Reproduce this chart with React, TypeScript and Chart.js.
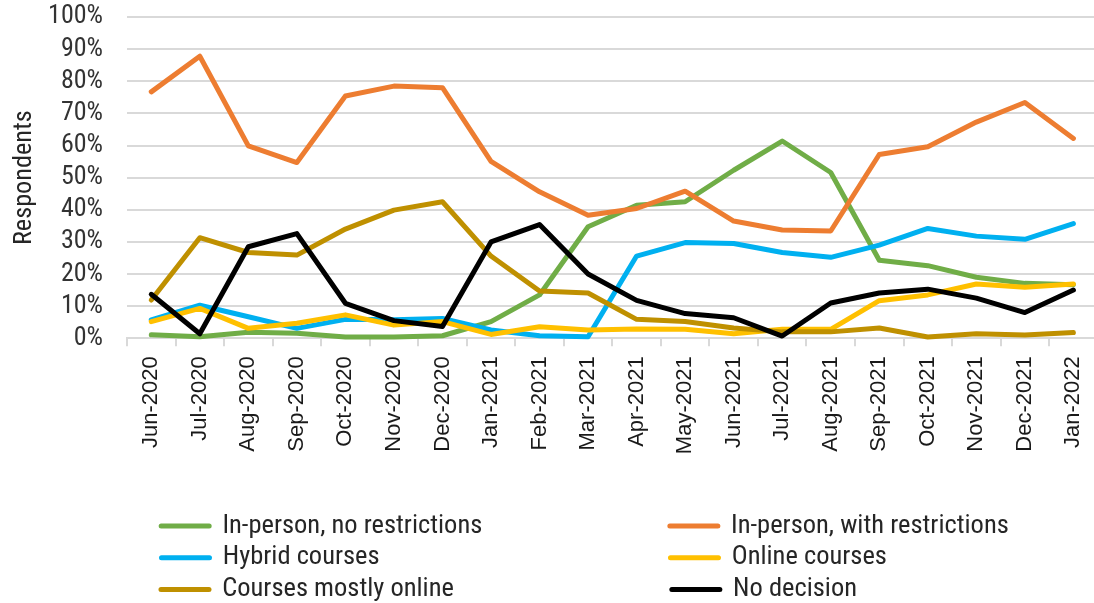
import React, { useEffect, useRef } from 'react';
import { Chart, registerables } from 'chart.js';

Chart.register(...registerables);

const categories = [
  'Jun-2020', 'Jul-2020', 'Aug-2020', 'Sep-2020', 'Oct-2020', 'Nov-2020', 'Dec-2020',
  'Jan-2021', 'Feb-2021', 'Mar-2021', 'Apr-2021', 'May-2021', 'Jun-2021', 'Jul-2021',
  'Aug-2021', 'Sep-2021', 'Oct-2021', 'Nov-2021', 'Dec-2021', 'Jan-2022',
];

const inPersonNoRestrictions = [1.1, 0.5, 1.9, 1.6, 0.4, 0.4, 0.8, 5.2, 13.5, 34.7, 41.4, 42.5, 52.3, 61.4, 51.6, 24.3, 22.6, 19.0, 17.1, 16.7];
const inPersonWithRestrictions = [76.7, 87.8, 59.9, 54.7, 75.4, 78.5, 78.0, 55.1, 45.6, 38.3, 40.4, 45.8, 36.5, 33.7, 33.4, 57.2, 59.6, 67.3, 73.4, 62.2];
const hybridCourses = [5.7, 10.3, 6.7, 3.1, 5.9, 5.8, 6.2, 2.6, 0.8, 0.5, 25.6, 29.8, 29.5, 26.7, 25.2, 29.0, 34.2, 31.8, 30.8, 35.7];
const onlineCourses = [5.2, 9.3, 3.1, 4.7, 7.3, 4.1, 5.2, 1.2, 3.6, 2.6, 2.9, 2.8, 1.4, 2.8, 2.8, 11.7, 13.5, 16.9, 15.9, 16.9];
const coursesMostlyOnline = [11.9, 31.3, 26.7, 25.9, 34.0, 39.9, 42.5, 25.6, 14.7, 14.1, 5.9, 5.2, 3.2, 2.0, 2.0, 3.2, 0.4, 1.4, 1.0, 1.8];
const noDecision = [13.7, 1.4, 28.5, 32.6, 10.9, 5.5, 3.7, 30.0, 35.4, 20.0, 11.8, 7.7, 6.4, 0.7, 11.0, 14.1, 15.3, 12.5, 8.0, 15.0];

const seriesLabels = [
  'In-person, no restrictions',
  'In-person, with restrictions',
  'Hybrid courses',
  'Online courses',
  'Courses mostly online',
  'No decision',
];
const seriesValues = [
  inPersonNoRestrictions,
  inPersonWithRestrictions,
  hybridCourses,
  onlineCourses,
  coursesMostlyOnline,
  noDecision,
];
const seriesColors = ['#70AD47', '#ED7D31', '#00B0F0', '#FFC000', '#BF9000', '#000000'];

const yAxisTitle = 'Respondents';

export default function App() {
  const ref = useRef<HTMLCanvasElement>(null);

  useEffect(() => {
    const canvas = ref.current;
    if (!canvas) return;

    const mctx = document.createElement('canvas').getContext('2d')!;
    const probe = 'In-person, no restrictions 0123456789% Respondents';
    const widthIn = (fam: string) => {
      mctx.font = `40px ${fam}`;
      return mctx.measureText(probe).width;
    };
    const monoW = widthIn('monospace');
    const serifW = widthIn('serif');
    const candidates = [
      '"Roboto Condensed"',
      '"Liberation Sans Narrow"',
      '"Arial Narrow"',
      '"DejaVu Sans Condensed"',
    ];
    let condFamily = 'Roboto';
    for (const c of candidates) {
      if (widthIn(`${c}, monospace`) !== monoW && widthIn(`${c}, serif`) !== serifW) {
        condFamily = c;
        break;
      }
    }
    const fitSize = (text: string, target: number) => {
      mctx.font = `100px ${condFamily}`;
      const w = mctx.measureText(text).width / 100;
      return Math.max(16, Math.min(30, target / w));
    };
    const legendSize = fitSize('In-person, no restrictions', 260);
    const tickSize = fitSize('100%', 55);
    const titleSize = fitSize('Respondents', 135);

    mctx.font = `${legendSize}px ${condFamily}`;
    const spaceW = mctx.measureText(' ').width;
    const padTo = (text: string, target: number) => {
      const w = mctx.measureText(text).width;
      const n = Math.max(0, Math.round((target - w) / spaceW));
      return text + ' '.repeat(n);
    };

    // layout geometry
    const areaLeft = 127;
    const areaRight = 1102;
    const areaTop = 17;
    const areaBottom = 338.3;
    const rowGap = 31.7;
    const row1Center = 526;
    const legPad = Math.max(2, rowGap - legendSize);
    const legendTop = row1Center - legPad - legendSize / 2;
    const legendHeight = 3 * (legendSize + legPad) + 10;
    const canvasH = Math.ceil(legendTop + legendHeight + 1);
    const bottomPad = canvasH - (legendTop + legendHeight);
    const xAxisH = legendTop - areaBottom;

    const boxW = 48;
    const col1X = 165;
    const col2X = 673;
    const w1 = col2X - col1X - legPad;
    const w2 = areaLeft + areaRight - legPad - 2 * col1X - w1;
    const t1 = w1 - boxW - legendSize / 2;
    const t2 = w2 - boxW - legendSize / 2;

    canvas.width = 1110;
    canvas.height = canvasH;
    canvas.style.width = '1110px';
    canvas.style.height = `${canvasH}px`;

    const titleLH = titleSize * 1.2;

    const chart = new Chart(canvas, {
      type: 'line',
      data: {
        labels: categories,
        datasets: seriesLabels.map((label, i) => ({
          label,
          data: seriesValues[i],
          borderColor: seriesColors[i],
          backgroundColor: seriesColors[i],
          borderWidth: 5,
          borderCapStyle: 'round' as const,
          borderJoinStyle: 'round' as const,
          pointRadius: 0,
          pointHoverRadius: 0,
          pointStyle: 'line' as const,
          tension: 0,
          clip: false as any,
          order: seriesLabels.length - i,
        })),
      },
      options: {
        animation: false,
        responsive: false,
        devicePixelRatio: 1,
        events: [],
        layout: { padding: { top: areaTop, right: 8, bottom: bottomPad, left: 0 } },
        plugins: {
          tooltip: { enabled: false },
          legend: {
            position: 'bottom',
            align: 'center',
            fullSize: false,
            labels: {
              usePointStyle: true,
              pointStyleWidth: boxW,
              padding: legPad,
              color: '#262626',
              font: { family: condFamily, size: legendSize },
              generateLabels: (ch: any) =>
                ch.data.datasets.map((ds: any, i: number) => ({
                  text: padTo(ds.label, i % 2 === 0 ? t1 : t2),
                  fillStyle: ds.borderColor,
                  strokeStyle: ds.borderColor,
                  lineWidth: 5,
                  lineCap: 'round',
                  pointStyle: 'line',
                  hidden: false,
                  datasetIndex: i,
                  fontColor: '#262626',
                })),
            },
          },
        },
        scales: {
          x: {
            type: 'category',
            offset: true,
            grid: {
              display: true,
              drawOnChartArea: false,
              drawTicks: true,
              tickLength: 8,
              offset: true,
              color: '#d9d9d9',
              lineWidth: 2,
            },
            border: { display: true, color: '#d9d9d9', width: 2 },
            ticks: {
              autoSkip: false,
              maxRotation: 90,
              minRotation: 90,
              padding: 10,
              color: '#1a1a1a',
              font: { family: "'Liberation Sans', Arial, sans-serif", size: 22 },
            },
            afterFit: (s: any) => {
              s.height = xAxisH;
            },
          },
          y: {
            min: 0,
            max: 100,
            grid: {
              color: '#d9d9d9',
              lineWidth: 2,
              drawTicks: true,
              tickLength: 24,
              tickColor: 'rgba(0,0,0,0)',
            },
            border: { display: false },
            ticks: {
              stepSize: 10,
              autoSkip: false,
              padding: 0,
              color: '#333333',
              font: { family: condFamily, size: tickSize },
              callback: (v: any) => `${v}%`,
            },
            title: {
              display: true,
              text: yAxisTitle,
              color: '#262626',
              font: { family: condFamily, size: titleSize },
              padding: { top: Math.max(0, 24 - titleLH / 2), bottom: 0 },
            },
            afterFit: (s: any) => {
              s.width = areaLeft;
            },
          },
        },
      } as any,
    });

    return () => chart.destroy();
  }, []);

  return (
    <div
      style={{
        position: 'fixed',
        left: 0,
        top: 0,
        width: 1094,
        height: 603,
        overflow: 'hidden',
        background: '#ffffff',
      }}
    >
      <canvas ref={ref} width={1110} height={612} style={{ display: 'block', width: 1110, height: 612 }} />
    </div>
  );
}
